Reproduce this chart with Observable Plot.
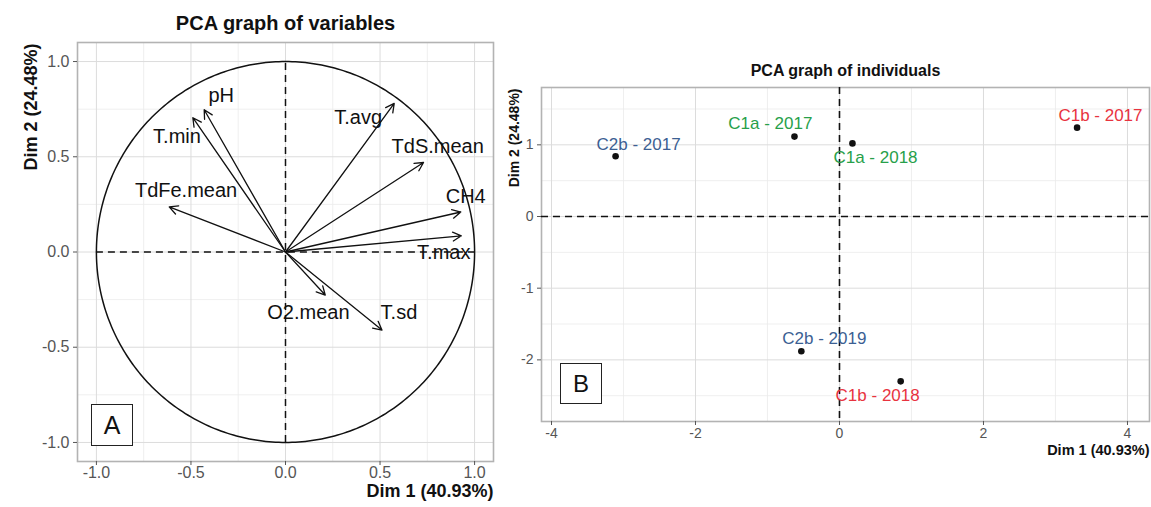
<!DOCTYPE html>
<html>
<head>
<meta charset="utf-8">
<script src="https://cdn.jsdelivr.net/npm/d3@7"></script>
<script src="https://cdn.jsdelivr.net/npm/@observablehq/plot@0.6"></script>
<style>
  html, body { margin: 0; padding: 0; background: #fff; }
  #wrap { position: relative; width: 1151px; height: 507px; overflow: hidden; font-family: "Liberation Sans", Arial, Helvetica, sans-serif; }
  #left { position: absolute; left: 0; top: 0; }
  #right { position: absolute; left: 500px; top: 0; }
  .tag { position: absolute; border: 1.3px solid #222; background: #fff; color: #111;
         display: flex; align-items: center; justify-content: center; box-sizing: border-box; }
</style>
</head>
<body>
<div id="wrap">
  <div id="left"></div>
  <div id="right"></div>
  <div class="tag" style="left:91px; top:404px; width:42px; height:42px; font-size:25px;">A</div>
  <div class="tag" style="left:560px; top:363px; width:42px; height:41px; font-size:24px;">B</div>
</div>
<script>
// ---------- Data: PCA graph of variables ----------
const varNames  = ["pH", "T.min", "TdFe.mean", "T.avg", "TdS.mean", "CH4", "T.max", "O2.mean", "T.sd"];
const varDim1   = [-0.43, -0.49, -0.615, 0.575, 0.73, 0.927, 0.93, 0.21, 0.51];
const varDim2   = [0.747, 0.705, 0.237, 0.78, 0.47, 0.21, 0.085, -0.226, -0.41];
const varLabelX = [-0.34, -0.574, -0.526, 0.384, 0.805, 0.953, 0.837, 0.121, 0.60];
const varLabelY = [0.82, 0.605, 0.323, 0.705, 0.553, 0.29, -0.005, -0.32, -0.32];
const varTicks      = [-1.0, -0.5, 0.0, 0.5, 1.0];
const varMinorTicks = [-0.75, -0.25, 0.25, 0.75];

// ---------- Data: PCA graph of individuals ----------
const indNames  = ["C2b - 2017", "C1a - 2017", "C1a - 2018", "C1b - 2017", "C2b - 2019", "C1b - 2018"];
const indGroup  = ["C2b", "C1a", "C1a", "C1b", "C2b", "C1b"];
const indDim1   = [-3.11, -0.625, 0.18, 3.30, -0.53, 0.85];
const indDim2   = [0.84, 1.115, 1.02, 1.24, -1.88, -2.30];
const indLabelX = [-2.79, -0.96, 0.50, 3.625, -0.21, 0.53];
const indLabelY = [1.00, 1.30, 0.82, 1.41, -1.70, -2.50];
const indXTicks      = [-4, -2, 0, 2, 4];
const indXMinorTicks = [-3, -1, 1, 3];
const indYTicks      = [-2, -1, 0, 1];
const indYMinorTicks = [-2.5, -1.5, -0.5, 0.5, 1.5];
const groupNames  = ["C1a", "C1b", "C2b"];
const groupColors = ["#27a04a", "#e8333f", "#3c5f93"];

const FONT = "'Liberation Sans', Arial, Helvetica, sans-serif";
const GRID_MAJOR = "#dcdcdc";
const GRID_MINOR = "#ebebeb";
const TICK_COLOR = "#555555";

// ---------- Left chart ----------
const vars = varNames.map((name, i) => ({name, x: varDim1[i], y: varDim2[i], lx: varLabelX[i], ly: varLabelY[i]}));
const circle = d3.range(0, 361, 1).map(a => ({x: Math.cos(a * Math.PI / 180), y: Math.sin(a * Math.PI / 180)}));
const axesRef = [{x1: -1, x2: 1, y1: -1, y2: 1}];

const left = Plot.plot({
  width: 505,
  height: 507,
  marginLeft: 77,
  marginRight: 12,
  marginTop: 42,
  marginBottom: 46,
  style: {fontFamily: FONT, background: "transparent", overflow: "visible"},
  x: {domain: [-1.1, 1.1], label: null},
  y: {domain: [-1.1, 1.1], label: null},
  marks: [
    Plot.ruleX(varMinorTicks, {stroke: GRID_MINOR, strokeWidth: 0.8}),
    Plot.ruleY(varMinorTicks, {stroke: GRID_MINOR, strokeWidth: 0.8}),
    Plot.ruleX(varTicks, {stroke: GRID_MAJOR, strokeWidth: 1}),
    Plot.ruleY(varTicks, {stroke: GRID_MAJOR, strokeWidth: 1}),
    Plot.frame({stroke: "#b3b3b3", strokeWidth: 1.6}),
    Plot.axisX({ticks: varTicks, tickFormat: d => d.toFixed(1), tickSize: 4, tickPadding: 1, fontSize: 16, color: TICK_COLOR, label: null}),
    Plot.axisY({ticks: varTicks, tickFormat: d => d.toFixed(1), tickSize: 4, tickPadding: 4, fontSize: 16, color: TICK_COLOR, label: null}),
    Plot.ruleX(axesRef, {x: d => 0, y1: "y1", y2: "y2", stroke: "#111", strokeWidth: 1.5, strokeDasharray: "7,5"}),
    Plot.ruleY(axesRef, {y: d => 0, x1: "x1", x2: "x2", stroke: "#111", strokeWidth: 1.5, strokeDasharray: "7,5"}),
    Plot.line(circle, {x: "x", y: "y", stroke: "#111", strokeWidth: 1.5}),
    Plot.arrow(vars, {x1: d => 0, y1: d => 0, x2: "x", y2: "y", stroke: "#111", strokeWidth: 1.3, headLength: 11, headAngle: 55}),
    Plot.text(vars, {x: "lx", y: "ly", text: "name", fontSize: 20, fill: "#111"}),
    Plot.text(["PCA graph of variables"], {frameAnchor: "top", dy: -27, fontSize: 20, fontWeight: "bold", fill: "#111"}),
    Plot.text(["Dim 2 (24.48%)"], {frameAnchor: "top-left", dx: -53, dy: 1, rotate: -90, textAnchor: "end", fontSize: 18, fontWeight: "bold", fill: "#111"}),
    Plot.text(["Dim 1 (40.93%)"], {frameAnchor: "bottom-right", dy: 35, textAnchor: "end", fontSize: 18, fontWeight: "bold", fill: "#111"})
  ]
});
document.getElementById("left").appendChild(left);

// ---------- Right chart ----------
const inds = indNames.map((name, i) => ({name, group: indGroup[i], x: indDim1[i], y: indDim2[i], lx: indLabelX[i], ly: indLabelY[i]}));

const right = Plot.plot({
  width: 651,
  height: 507,
  marginLeft: 41,
  marginRight: 2,
  marginTop: 87,
  marginBottom: 86,
  style: {fontFamily: FONT, background: "transparent", overflow: "visible"},
  x: {domain: [-4.139, 4.306], label: null},
  y: {domain: [-2.86, 1.80], label: null},
  color: {domain: groupNames, range: groupColors},
  marks: [
    Plot.ruleX(indXMinorTicks, {stroke: GRID_MINOR, strokeWidth: 0.8}),
    Plot.ruleY(indYMinorTicks, {stroke: GRID_MINOR, strokeWidth: 0.8}),
    Plot.ruleX(indXTicks, {stroke: GRID_MAJOR, strokeWidth: 1}),
    Plot.ruleY(indYTicks, {stroke: GRID_MAJOR, strokeWidth: 1}),
    Plot.frame({stroke: "#b3b3b3", strokeWidth: 1.6}),
    Plot.axisX({ticks: indXTicks, tickFormat: d => String(d), tickSize: 4, tickPadding: 3, fontSize: 14, color: TICK_COLOR, label: null}),
    Plot.axisY({ticks: indYTicks, tickFormat: d => String(d), tickSize: 4, tickPadding: 4, fontSize: 14, color: TICK_COLOR, label: null}),
    Plot.ruleX([0], {stroke: "#111", strokeWidth: 1.6, strokeDasharray: "7,5"}),
    Plot.ruleY([0], {stroke: "#111", strokeWidth: 1.6, strokeDasharray: "7,5"}),
    Plot.dot(inds, {x: "x", y: "y", r: 3.3, fill: "#111", stroke: "none"}),
    Plot.text(inds, {x: "lx", y: "ly", text: "name", fill: "group", fontSize: 17}),
    Plot.text(["PCA graph of individuals"], {frameAnchor: "top", dy: -23, fontSize: 16, fontWeight: "bold", fill: "#111"}),
    Plot.text(["Dim 2 (24.48%)"], {frameAnchor: "top-left", dx: -32, dy: 1, rotate: -90, textAnchor: "end", fontSize: 14, fontWeight: "bold", fill: "#111"}),
    Plot.text(["Dim 1 (40.93%)"], {frameAnchor: "bottom-right", dy: 33, textAnchor: "end", fontSize: 14.5, fontWeight: "bold", fill: "#111"})
  ]
});
document.getElementById("right").appendChild(right);
</script>
</body>
</html>
